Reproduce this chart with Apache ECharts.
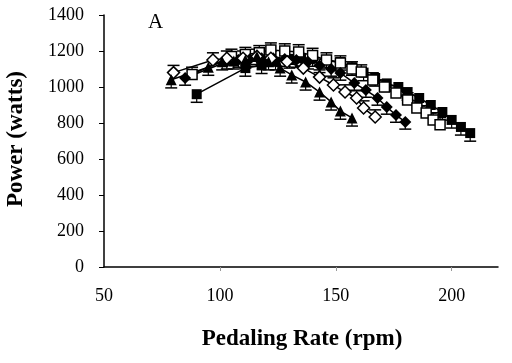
<!DOCTYPE html>
<html><head><meta charset="utf-8">
<script src="https://cdn.jsdelivr.net/npm/echarts@6/dist/echarts.min.js"></script>
<style>html,body{margin:0;padding:0;background:#fff}#c{width:512px;height:363px}</style>
</head><body><div id="c"></div>
<script>
// [pedaling rate (rpm), power (W)]
const triFilled = [[79,1040],[95,1110],[101,1140],[106,1145],[111,1150],[116,1170],[121,1140],[126,1105],[131,1067],[137,1028],[143,972],[148,917],[152,866],[157,828]];
const diaOpen = [[80,1080],[97,1150],[103,1160],[110,1160],[116,1170],[122,1160],[129,1140],[136,1105],[143,1055],[149,1011],[154,972],[159,939],[162,883],[167,833]];
const diaFilled = [[85,1050],[103,1140],[108,1150],[113,1155],[118,1160],[123,1160],[128,1155],[133,1150],[138,1140],[143,1120],[148,1100],[152,1078],[158,1022],[163,983],[168,939],[172,889],[176,844],[180,806]];
const sqOpen = [[88,1070],[105,1170],[111,1180],[117,1190],[122,1205],[128,1200],[134,1195],[140,1175],[146,1150],[152,1133],[157,1100],[161,1083],[166,1039],[171,1000],[176,967],[181,928],[185,883],[189,856],[192,817],[195,790]];
const sqFilled = [[90,960],[111,1105],[118,1120],[124,1140],[130,1150],[135,1160],[140,1160],[146,1150],[152,1139],[157,1110],[162,1080],[167,1050],[172,1020],[177,1000],[181,972],[186,939],[191,900],[196,861],[200,817],[204,778],[208,744]];
// error bar length (W) per series
const errTri = 45, errDiaOpen = 40, errDiaFilled = 40, errSqOpen = 40, errSqFilled = 45;
const xTicks = [50,100,150,200];
const yTicks = [0,200,400,600,800,1000,1200,1400];

const F = '"Liberation Serif","Times New Roman",serif';
function errSeries(data, err, dir){
  return {
    type:'custom', z:1, silent:true,
    data: data,
    renderItem: function(params, api){
      const x = api.value(0), y = api.value(1);
      const p0 = api.coord([x,y]);
      const p1 = api.coord([x,y+dir*err]);
      return {type:'group', children:[
        {type:'line', shape:{x1:p0[0],y1:p0[1],x2:p1[0],y2:p1[1]}, style:{stroke:'#000',lineWidth:1.2}},
        {type:'line', shape:{x1:p1[0]-6,y1:p1[1],x2:p1[0]+6,y2:p1[1]}, style:{stroke:'#000',lineWidth:1.5}}
      ]};
    }
  };
}
function lineSeries(data, symbol, filled, size){
  return {
    type:'line', z:3, data:data, symbol:symbol, symbolSize:size,
    lineStyle:{color:'#000', width:1.5},
    itemStyle:{color: filled ? '#000' : '#fff', borderColor:'#000', borderWidth: filled?0:1.5},
    animation:false
  };
}
const chart = echarts.init(document.getElementById('c'));
chart.setOption({
  animation:false,
  grid:{left:104, right:14, top:15, bottom:96},
  xAxis:{type:'value', min:50, max:220, interval:50,
    axisLine:{lineStyle:{color:'#000', width:1.5}},
    axisTick:{show:true, customValues:[100,150,200], length:4, lineStyle:{color:'#999'}},
    axisLabel:{customValues:xTicks, color:'#000', fontFamily:F, fontSize:18, margin:20, formatter:v=>String(v)},
    splitLine:{show:false}},
  yAxis:{type:'value', min:0, max:1400, interval:200,
    axisLine:{show:true, lineStyle:{color:'#000', width:1.5}},
    axisTick:{show:true, inside:false, length:5, lineStyle:{color:'#000'}},
    axisLabel:{customValues:yTicks, color:'#000', fontFamily:F, fontSize:18, margin:20, formatter:v=>String(v)},
    splitLine:{show:false}},
  graphic:[
    {type:'text', left:148, top:12, style:{text:'A', font:'21px '+F, fill:'#000'}},
    {type:'text', x:302, y:339, style:{text:'Pedaling Rate (rpm)', font:'bold 23px '+F, fill:'#000', align:'center', verticalAlign:'middle'}},
    {type:'text', x:16, y:139, rotation:Math.PI/2, style:{text:'Power (watts)', font:'bold 23px '+F, fill:'#000', align:'center', verticalAlign:'middle'}}
  ],
  series:[
    errSeries(triFilled, errTri, -1),
    errSeries(diaOpen, errDiaOpen, 1),
    errSeries(diaFilled, errDiaFilled, -1),
    errSeries(sqOpen, errSqOpen, 1),
    errSeries(sqFilled, errSqFilled, -1),
    lineSeries(sqFilled,'rect',true,10),
    lineSeries(sqOpen,'rect',false,10),
    lineSeries(diaFilled,'diamond',true,12),
    lineSeries(diaOpen,'diamond',false,12),
    lineSeries(triFilled,'triangle',true,11)
  ]
});
</script></body></html>
